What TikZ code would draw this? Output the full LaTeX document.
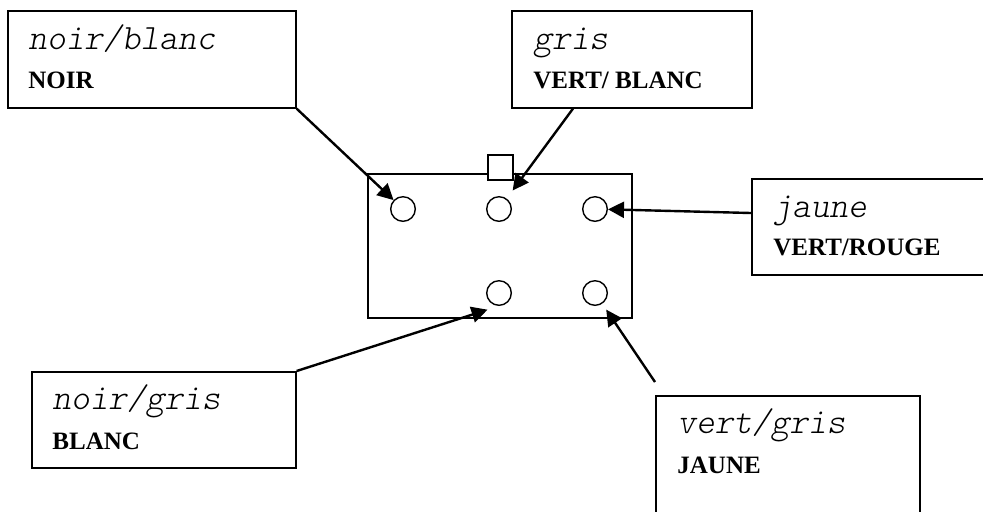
\documentclass[tikz,border=0pt]{standalone}
\usepackage{fontspec}
\setmainfont{Liberation Serif}
\newfontfamily\courtext{lmmonolt10-oblique.otf}
\usetikzlibrary{arrows.meta,calc}

\begin{document}
\begin{tikzpicture}[x=0.5pt,y=-0.5pt]
        \useasboundingbox (0,0) rectangle (983,511);
        \clip (0,0) rectangle (983,511);
        \begin{scope}
            \tikzset{wirebox/.style = {
                rectangle,
                draw=black,
                line width=0.8pt,
                anchor=north west,
                inner sep=0pt } }
            \tikzset{colourtext/.style = {
                anchor=base west,
                inner sep=0pt,
                font=\fontsize{17.8}{20}\selectfont\courtext } }
            \tikzset{wiretext/.style = {
                anchor=base west,
                inner sep=0pt,
                font=\fontsize{12.5}{15}\selectfont\bfseries } }
            \tikzset{socket/.style = {
                circle,
                draw=black,
                line width=0.7pt,
                inner sep=0pt,
                minimum size=12.3pt } }
            \tikzset{lead/.style = {
                draw=black,
                line width=1.2pt,
                -{Triangle[length=8pt,width=8pt]} } }
                % connector body
                \node[wirebox, minimum width=132pt, minimum height=72pt] (body) at (367,173) {};
                \node[wirebox, fill=white, minimum size=12.5pt] (key) at (487,154) {};
                \foreach \x/\i in {403/1,499/2,595/3}{
                    \node[socket] (t\i) at (\x,209) {};
                }
                \foreach \x/\i in {499/2,595/3}{
                    \node[socket] (b\i) at (\x,293) {};
                }
                % wire labels
                \node[wirebox, minimum width=144pt, minimum height=48.5pt] (nb) at (7,10) {};
                \node[colourtext] (nbc) at ($(nb.north west)+(21,39)$) {noir/blanc};
                \node[wiretext] (nbw) at ($(nb.north west)+(21,78)$) {NOIR};
                \node[wirebox, minimum width=120pt, minimum height=48.5pt] (gr) at (511,10) {};
                \node[colourtext] (grc) at ($(gr.north west)+(22,39)$) {gris};
                \node[wiretext] (grw) at ($(gr.north west)+(22,78)$) {VERT/ BLANC};
                \node[wirebox, minimum width=130pt, minimum height=48pt] (ja) at (751,178) {};
                \node[colourtext] (jac) at ($(ja.north west)+(22,39)$) {jaune};
                \node[wiretext] (jaw) at ($(ja.north west)+(22,77)$) {VERT/ROUGE};
                \node[wirebox, minimum width=132pt, minimum height=48pt] (ng) at (31,371) {};
                \node[colourtext] (ngc) at ($(ng.north west)+(21,38)$) {noir/gris};
                \node[wiretext] (ngw) at ($(ng.north west)+(21,78)$) {BLANC};
                \node[wirebox, minimum width=132pt, minimum height=65pt] (vg) at (655,395) {};
                \node[colourtext] (vgc) at ($(vg.north west)+(22,38)$) {vert/gris};
                \node[wiretext] (vgw) at ($(vg.north west)+(22,78)$) {JAUNE};
                \coordinate (vgt) at (655,382);
                % leads
                \draw[lead] (nb.south east) -- (t1);
                \draw[lead, shorten >=5pt] ($(gr.south west)+(62,0)$) -- (t2);
                \draw[lead] ($(ja.north west)+(0,35)$) -- (t3);
                \draw[lead, shorten >=6pt] (ng.north east) -- (b2.south);
                \draw[lead, shorten >=3.5pt] (vgt) -- (b3);
        \end{scope}
    \end{tikzpicture}
\end{document}
